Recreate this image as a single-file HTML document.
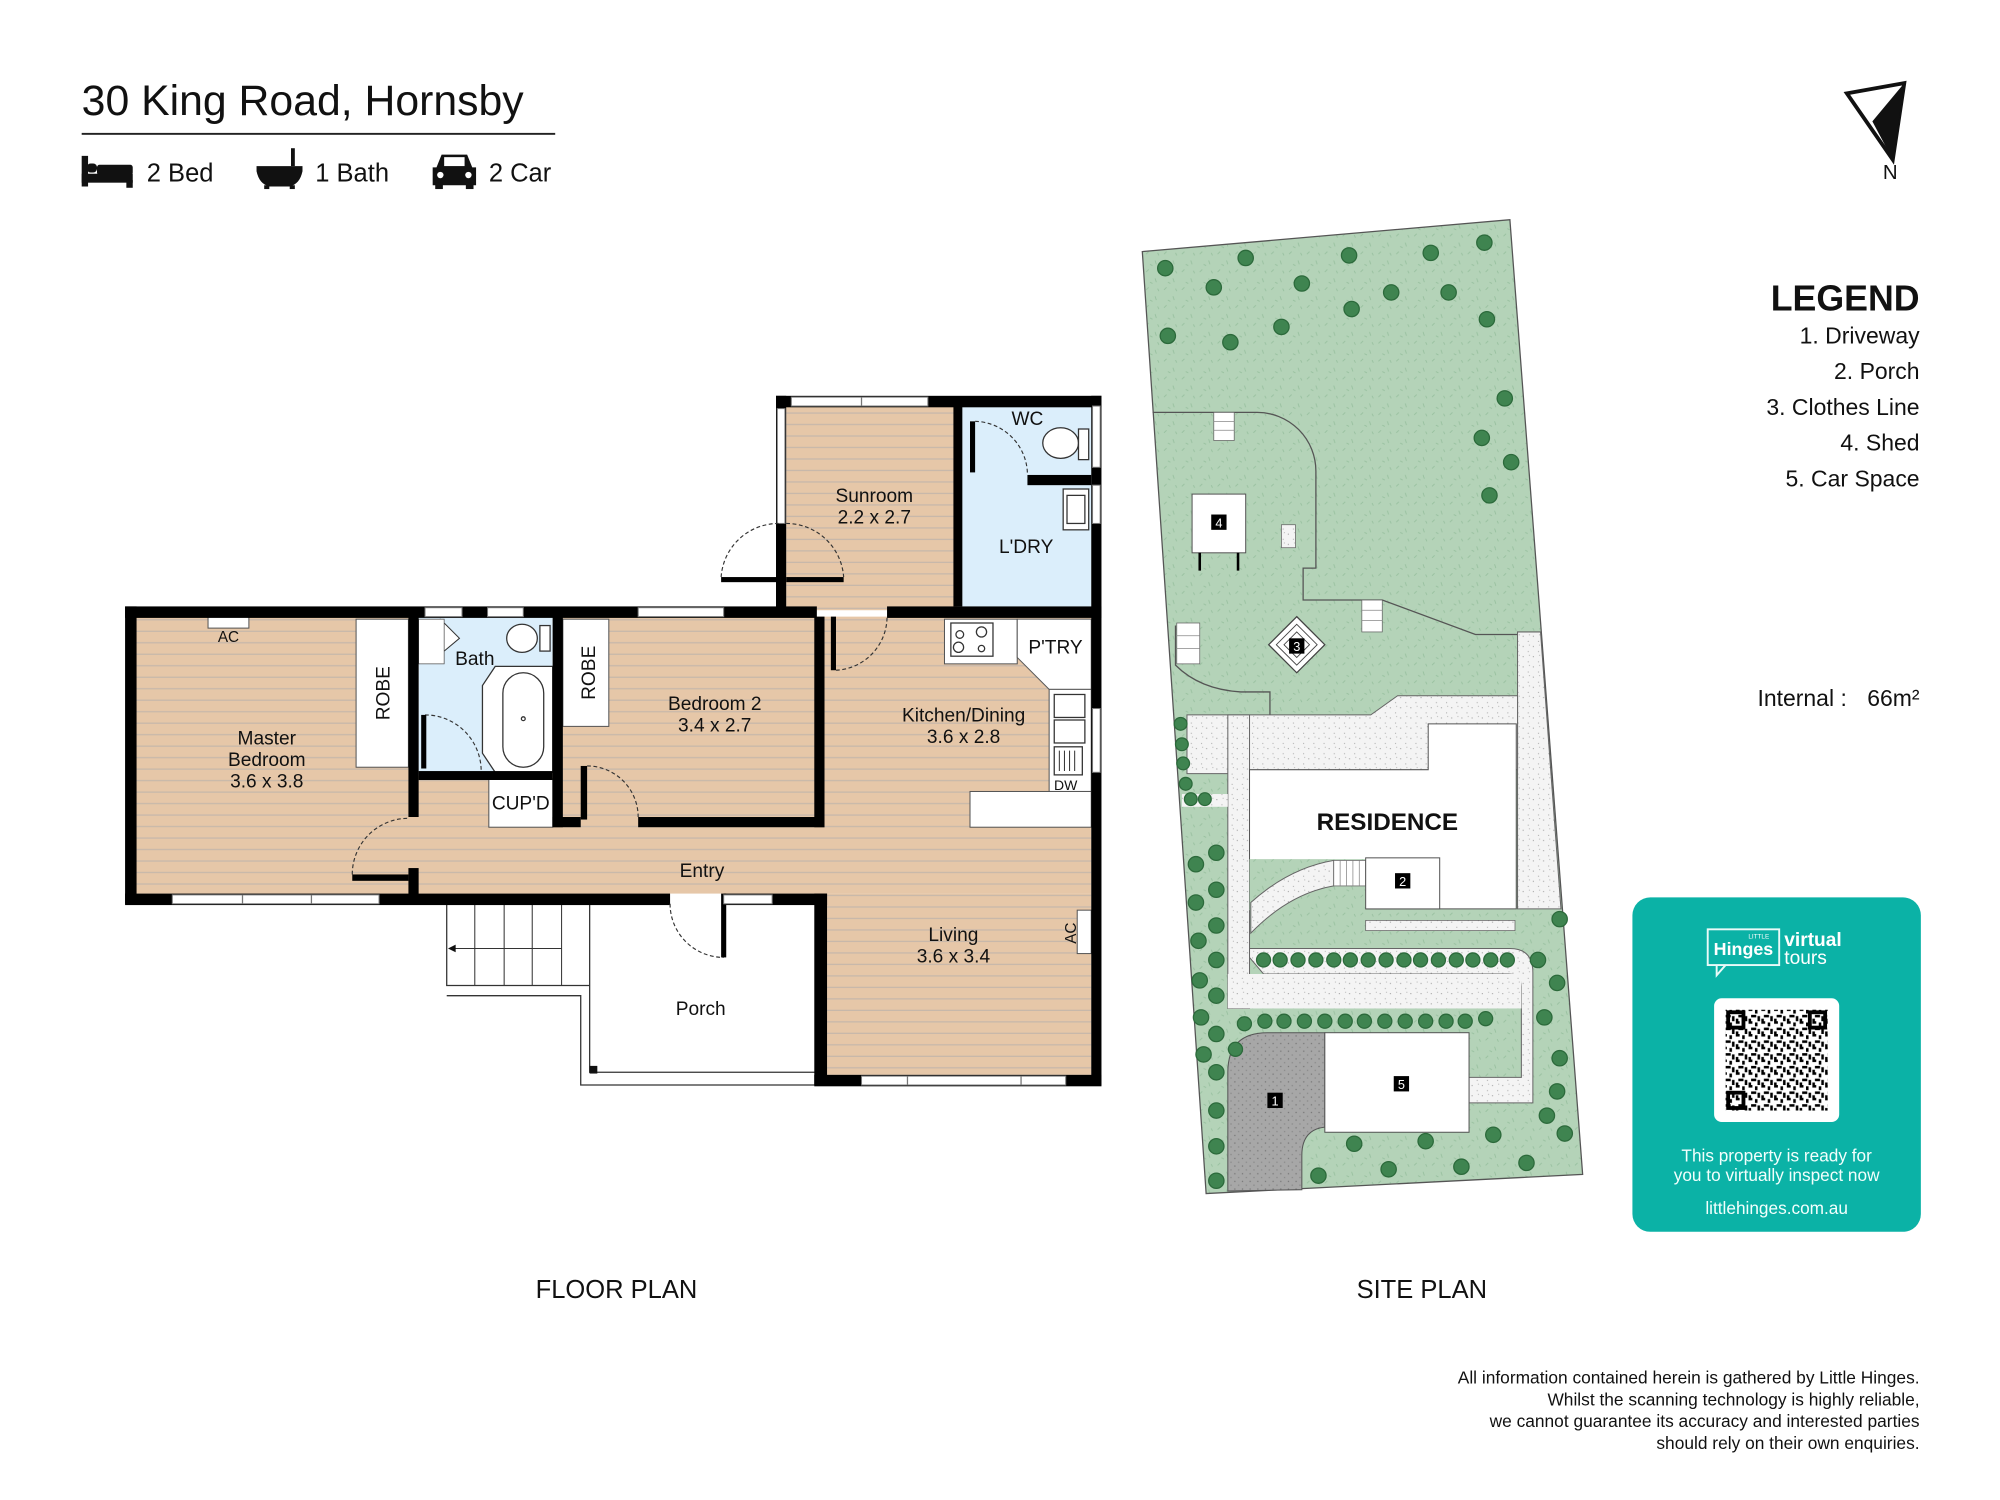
<!DOCTYPE html>
<html><head><meta charset="utf-8"><style>
html,body{margin:0;padding:0;background:#fff;}
svg{display:block;}
text{font-family:"Liberation Sans",Arial,sans-serif;}
</style></head><body>
<svg width="2000" height="1500" viewBox="0 0 1567 1175" xmlns="http://www.w3.org/2000/svg">
<defs>
<pattern id="wood" width="10" height="9" patternUnits="userSpaceOnUse">
<rect width="10" height="9" fill="#e6c7a8"/><rect y="8" width="10" height="1" fill="#c7b8aa"/>
</pattern>
<pattern id="grass" width="14" height="14" patternUnits="userSpaceOnUse">
<rect width="14" height="14" fill="#b4d3b8"/>
<path d="M2 3l2 -2M9 8l1 3M5 11l2 1M11 2l1 2" stroke="#98c09f" stroke-width="0.7"/>
</pattern>
<pattern id="gravel" width="8" height="8" patternUnits="userSpaceOnUse">
<rect width="8" height="8" fill="#f4f4f4"/>
<rect x="1" y="2" width="0.8" height="0.8" fill="#999"/><rect x="5" y="6" width="0.8" height="0.8" fill="#aaa"/><rect x="6" y="1" width="0.6" height="0.6" fill="#888"/>
</pattern>
<pattern id="drive" width="6" height="6" patternUnits="userSpaceOnUse">
<rect width="6" height="6" fill="#a7a7a7"/><rect x="1" y="1" width="1" height="1" fill="#777"/><rect x="4" y="4" width="1" height="1" fill="#888"/>
</pattern>
<pattern id="qr" width="10" height="10" patternUnits="userSpaceOnUse">
<rect width="10" height="10" fill="#fff"/>
<rect x="0" y="0" width="3" height="2" fill="#000"/><rect x="5" y="1" width="2" height="3" fill="#000"/><rect x="2" y="5" width="4" height="2" fill="#000"/><rect x="7" y="6" width="2" height="4" fill="#000"/><rect x="0" y="8" width="2" height="2" fill="#000"/>
</pattern>
</defs>

<!-- Header -->
<text x="64" y="90" font-size="33.5" fill="#111">30 King Road, Hornsby</text>
<rect x="64" y="104" width="371" height="1.5" fill="#222"/>
<g fill="#111">
<rect x="64" y="122" width="5" height="24"/><rect x="64" y="136" width="40" height="7"/><rect x="76" y="129" width="28" height="8" rx="2"/><rect x="99" y="141" width="5" height="6"/><rect x="68" y="128" width="8" height="7" rx="3"/>
</g>
<text x="115" y="142" font-size="20" fill="#111">2 Bed</text>
<g fill="#111"><path d="M201 130h36v4q-2 10-10 12h-16q-8-2-10-12z"/><rect x="228" y="116" width="3" height="14"/><rect x="207" y="145" width="4" height="3"/><rect x="227" y="145" width="4" height="3"/></g>
<text x="247" y="142" font-size="20" fill="#111">1 Bath</text>
<g fill="#111"><path d="M342 131l4-10h20l4 10h3v14h-34v-14z"/><rect x="341" y="143" width="6" height="5"/><rect x="365" y="143" width="6" height="5"/><rect x="348" y="123" width="16" height="7" fill="#fff"/><circle cx="345" cy="137" r="2.5" fill="#fff"/><circle cx="367" cy="137" r="2.5" fill="#fff"/></g>
<text x="383" y="142" font-size="20" fill="#111">2 Car</text>

<!-- North arrow -->
<path d="M1447 73 L1492 65 L1483 125 Z" fill="none" stroke="#111" stroke-width="3"/>
<path d="M1492 65 L1483 125 L1467 95 Z" fill="#111"/>
<text x="1481" y="140" font-size="16" text-anchor="middle" fill="#111">N</text>

<!-- ============ FLOOR PLAN ============ -->
<rect x="106" y="483" width="749" height="217" fill="url(#wood)"/>
<rect x="648" y="700" width="207" height="142" fill="url(#wood)"/>
<rect x="616" y="318" width="134" height="160" fill="url(#wood)"/>
<rect x="328" y="483" width="105" height="125" fill="#dbeefb"/>
<rect x="754" y="318" width="101" height="157" fill="#dbeefb"/>
<rect x="279" y="485" width="41" height="116" fill="#fff" stroke="#555" stroke-width="0.8"/>
<text transform="translate(305,543) rotate(-90)" font-size="15" text-anchor="middle" fill="#111">ROBE</text>
<rect x="441" y="485" width="36" height="84" fill="#fff" stroke="#555" stroke-width="0.8"/>
<text transform="translate(466,527) rotate(-90)" font-size="15" text-anchor="middle" fill="#111">ROBE</text>
<rect x="383" y="610" width="50" height="38" fill="#fff" stroke="#555" stroke-width="0.8"/>
<text x="408" y="634" font-size="15" text-anchor="middle" fill="#111">CUP'D</text>
<rect x="740" y="485" width="57" height="35" fill="#fff" stroke="#555" stroke-width="0.8"/>
<rect x="745" y="488" width="33" height="26" fill="#fff" stroke="#333"/>
<circle cx="752" cy="497" r="3" fill="none" stroke="#333"/><circle cx="769" cy="495" r="4" fill="none" stroke="#333"/><circle cx="751" cy="507" r="4" fill="none" stroke="#333"/><circle cx="769" cy="508" r="2.5" fill="none" stroke="#333"/>
<path d="M797 485 H855 V540 H822 L797 515 Z" fill="#fff" stroke="#555" stroke-width="0.8"/>
<text x="827" y="512" font-size="15" text-anchor="middle" fill="#111">P'TRY</text>
<rect x="822" y="540" width="33" height="80" fill="#fff" stroke="#555" stroke-width="0.8"/>
<rect x="826" y="544" width="24" height="18" fill="#fff" stroke="#333"/><rect x="826" y="564" width="24" height="18" fill="#fff" stroke="#333"/>
<rect x="826" y="585" width="22" height="22" fill="#fff" stroke="#333"/>
<path d="M830 588v16M834 588v16M838 588v16M842 588v16" stroke="#333" stroke-width="0.8"/>
<text x="835" y="619" font-size="11" text-anchor="middle" fill="#111">DW</text>
<rect x="760" y="620" width="95" height="28" fill="#fff" stroke="#555" stroke-width="0.8"/>
<path d="M330 490 L345 485 L360 500 L342 515 L330 505 Z" fill="#fff" stroke="#333" stroke-width="0.8"/>
<rect x="328" y="485" width="20" height="35" fill="#fff" stroke="#555" stroke-width="0.6"/>
<ellipse cx="409" cy="500" rx="12" ry="11" fill="#fff" stroke="#333"/><rect x="423" y="490" width="8" height="20" fill="#fff" stroke="#333"/>
<path d="M388 522 H433 V605 H388 L378 590 V537 Z" fill="#fff" stroke="#333"/>
<rect x="394" y="527" width="32" height="74" rx="16" fill="#fff" stroke="#333"/>
<circle cx="410" cy="563" r="1.5" fill="none" stroke="#333"/>
<ellipse cx="831" cy="347" rx="14" ry="12" fill="#fff" stroke="#333"/><rect x="845" y="336" width="8" height="24" fill="#fff" stroke="#333"/>
<rect x="833" y="383" width="20" height="32" fill="#fff" stroke="#333"/><rect x="836" y="388" width="14" height="22" fill="#fff" stroke="#333"/>
<rect x="163" y="483" width="32" height="9" fill="#fff" stroke="#555" stroke-width="0.8"/>
<text x="179" y="503" font-size="12" text-anchor="middle" fill="#111">AC</text>
<rect x="844" y="713" width="11" height="34" fill="#fff" stroke="#555" stroke-width="0.8"/>
<text transform="translate(843,731) rotate(-90)" font-size="12" text-anchor="middle" fill="#111">AC</text>

<path d="M462 708 V840 H640" fill="none" stroke="#333" stroke-width="1"/>
<rect x="462" y="835" width="6" height="6" fill="#111"/>
<path d="M350 708 V772 H462 M350 780 H455 V850 H640" fill="none" stroke="#333" stroke-width="1"/>
<path d="M372 708V772M395 708V772M417 708V772M440 708V772" stroke="#333" stroke-width="0.8"/>
<path d="M440 743 H352" stroke="#333" stroke-width="0.8"/><path d="M351 743 l6 -3 v6z" fill="#111"/>

<g fill="#000">
<rect x="98" y="475" width="542" height="9"/>
<rect x="695" y="475" width="168" height="9"/>
<rect x="98" y="475" width="9" height="233"/>
<rect x="98" y="700" width="427" height="9"/>
<rect x="567" y="700" width="81" height="9"/>
<rect x="638" y="700" width="10" height="150"/>
<rect x="638" y="842" width="225" height="9"/>
<rect x="855" y="310" width="8" height="540"/>
<rect x="608" y="310" width="255" height="9"/>
<rect x="608" y="310" width="8" height="168"/>
<rect x="747" y="318" width="7" height="157"/>
<rect x="805" y="372" width="50" height="8"/>
<rect x="760" y="330" width="4" height="40"/>
<rect x="320" y="483" width="8" height="157"/>
<rect x="320" y="680" width="8" height="22"/>
<rect x="328" y="604" width="105" height="7"/>
<rect x="433" y="483" width="8" height="165"/>
<rect x="433" y="640" width="22" height="8"/>
<rect x="455" y="600" width="5" height="42"/>
<rect x="500" y="640" width="146" height="8"/>
<rect x="638" y="483" width="8" height="165"/>
<rect x="651" y="483" width="4" height="42"/>
<rect x="276" y="685" width="44" height="5"/>
<rect x="565" y="452" width="45" height="4"/>
<rect x="616" y="452" width="45" height="4"/>
<rect x="565" y="700" width="4" height="50"/>
</g>
<g fill="#fff" stroke="#777" stroke-width="0.8">
<rect x="135" y="701" width="162" height="7"/>
<rect x="333" y="476" width="29" height="7"/><rect x="382" y="476" width="28" height="7"/>
<rect x="500" y="476" width="67" height="7"/>
<rect x="567" y="701" width="38" height="7"/>
<rect x="675" y="843" width="160" height="7"/>
<rect x="620" y="311" width="107" height="7"/>
<rect x="609" y="320" width="6" height="90"/>
<rect x="856" y="318" width="6" height="48"/><rect x="856" y="380" width="6" height="30"/>
<rect x="856" y="555" width="6" height="50"/>
</g>
<path d="M190 701v7M244 701v7M675 311v7M711 843v7M800 843v7" stroke="#777"/>
<g fill="none" stroke="#333" stroke-width="0.9" stroke-dasharray="3,2">
<path d="M276 685 A44 44 0 0 1 320 641"/>
<path d="M525 708 A42 42 0 0 0 567 750"/>
<path d="M460 600 A40 40 0 0 1 500 640"/>
<path d="M655 525 A42 42 0 0 0 695 483"/>
<path d="M565 452 A45 45 0 0 1 610 410"/>
<path d="M616 410 A45 45 0 0 1 661 452"/>
<path d="M764 330 A42 42 0 0 1 805 372"/>
<path d="M333 560 A44 44 0 0 1 377 604"/>
</g>
<rect x="330" y="560" width="4" height="42" fill="#000"/>
<g font-size="15" fill="#111" text-anchor="middle">
<text x="209" y="583">Master</text><text x="209" y="600">Bedroom</text><text x="209" y="617">3.6 x 3.8</text>
<text x="372" y="521">Bath</text>
<text x="560" y="556">Bedroom 2</text><text x="560" y="573">3.4 x 2.7</text>
<text x="685" y="393">Sunroom</text><text x="685" y="410">2.2 x 2.7</text>
<text x="805" y="333">WC</text>
<text x="804" y="433">L'DRY</text>
<text x="755" y="565">Kitchen/Dining</text><text x="755" y="582">3.6 x 2.8</text>
<text x="550" y="687">Entry</text>
<text x="747" y="737">Living</text><text x="747" y="754">3.6 x 3.4</text>
<text x="549" y="795">Porch</text>
</g>
<text x="483" y="1017" font-size="20" text-anchor="middle" fill="#111">FLOOR PLAN</text>

<!-- ============ SITE PLAN ============ -->
<path d="M895 197 L1183 172 L1240 920 L945 935 Z" fill="url(#grass)" stroke="#555" stroke-width="1"/>
<path d="M903 323 H985 A46 46 0 0 1 1031 369 V445 H1021 V470 H1083 L1156 497 H1189" fill="none" stroke="#555" stroke-width="1"/>
<path d="M921 490 V521 Q940 540 972 542 H995 V562" fill="none" stroke="#555" stroke-width="1"/>
<path d="M1189 495 L1207 495 L1223 712 L1189 712 Z" fill="url(#gravel)" stroke="#666" stroke-width="0.8"/>
<path d="M930 560 H1074 L1095 545 H1189 V603 H979 V606 H930 Z" fill="url(#gravel)" stroke="#666" stroke-width="0.8"/>
<rect x="962" y="560" width="17" height="230" fill="url(#gravel)" stroke="#666" stroke-width="0.8"/>
<rect x="926" y="622" width="36" height="10" fill="url(#gravel)"/>
<path d="M979 743 H1183 Q1201 743 1201 762 V864 H1151 V844 H1192 V773 Q1192 763 1182 763 H990 L979 750 Z" fill="url(#gravel)" stroke="#666" stroke-width="0.8"/>
<rect x="962" y="763" width="230" height="27" fill="url(#gravel)"/>
<path d="M979 603 H1119 V567 H1188 V712 H979 Z" fill="#fff" stroke="#555" stroke-width="0.8"/>
<rect x="979" y="673" width="91" height="40" fill="url(#grass)"/>
<path d="M980 707 Q1010 680 1045 674 V694 Q1010 700 980 731 Z" fill="url(#gravel)" stroke="#666" stroke-width="0.8"/>
<rect x="1045" y="674" width="25" height="20" fill="#fff" stroke="#666" stroke-width="0.6"/>
<path d="M1050 674v20M1055 674v20M1060 674v20M1065 674v20" stroke="#888" stroke-width="0.6"/>
<rect x="1070" y="672" width="58" height="40" fill="#fff" stroke="#555" stroke-width="0.8"/>
<rect x="1070" y="721" width="117" height="8" fill="url(#gravel)" stroke="#666" stroke-width="0.6"/>
<text x="1087" y="650" font-size="19" font-weight="bold" text-anchor="middle" fill="#111">RESIDENCE</text>
<path d="M962 933 V840 Q962 809 993 809 H1038 V883 Q1020 885 1020 905 V932 Z" fill="url(#drive)" stroke="#555" stroke-width="0.8"/>
<rect x="1038" y="809" width="113" height="78" fill="#fff" stroke="#555" stroke-width="0.8"/>
<rect x="934" y="387" width="42" height="46" fill="#fff" stroke="#555" stroke-width="0.8"/>
<path d="M940 433v14M970 433v14" stroke="#000" stroke-width="2"/>
<rect x="1004" y="411" width="11" height="18" fill="url(#gravel)" stroke="#666" stroke-width="0.6"/>
<path d="M1016 483 L1038 505 L1016 527 L994 505 Z" fill="#fff" stroke="#444"/>
<path d="M1016 489 L1032 505 L1016 521 L1000 505 Z M1016 495 L1026 505 L1016 515 L1006 505 Z" fill="none" stroke="#444" stroke-width="0.7"/>
<rect x="951" y="323" width="16" height="22" fill="#fff" stroke="#666" stroke-width="0.6"/>
<rect x="1067" y="470" width="16" height="25" fill="#fff" stroke="#666" stroke-width="0.6"/>
<rect x="922" y="488" width="18" height="32" fill="#fff" stroke="#666" stroke-width="0.6"/>
<path d="M951 330h16M951 337h16M1067 478h16M1067 486h16M922 498h18M922 508h18" stroke="#888" stroke-width="0.6"/>
<g font-size="10" fill="#fff" text-anchor="middle">
<rect x="949" y="403" width="12" height="12" fill="#000"/><text x="955" y="413">4</text>
<rect x="1010" y="500" width="12" height="12" fill="#000"/><text x="1016" y="510">3</text>
<rect x="1093" y="684" width="12" height="12" fill="#000"/><text x="1099" y="694">2</text>
<rect x="993" y="856" width="12" height="12" fill="#000"/><text x="999" y="866">1</text>
<rect x="1092" y="843" width="12" height="12" fill="#000"/><text x="1098" y="853">5</text>
</g>
<g fill="#3f8450" stroke="#2c6a3b" stroke-width="1">
<circle cx="913" cy="210" r="6"/><circle cx="976" cy="202" r="6"/><circle cx="1057" cy="200" r="6"/><circle cx="1121" cy="198" r="6"/><circle cx="1163" cy="190" r="6"/>
<circle cx="951" cy="225" r="6"/><circle cx="1020" cy="222" r="6"/><circle cx="1090" cy="229" r="6"/><circle cx="1135" cy="229" r="6"/><circle cx="1059" cy="242" r="6"/><circle cx="1165" cy="250" r="6"/>
<circle cx="915" cy="263" r="6"/><circle cx="964" cy="268" r="6"/><circle cx="1004" cy="256" r="6"/>
<circle cx="1179" cy="312" r="6"/><circle cx="1161" cy="343" r="6"/><circle cx="1184" cy="362" r="6"/><circle cx="1167" cy="388" r="6"/>
<circle cx="925" cy="567" r="5"/><circle cx="926" cy="583" r="5"/><circle cx="927" cy="598" r="5"/><circle cx="929" cy="614" r="5"/><circle cx="933" cy="626" r="5"/><circle cx="944" cy="626" r="5"/>
<circle cx="953" cy="668" r="6"/><circle cx="937" cy="677" r="6"/><circle cx="953" cy="697" r="6"/><circle cx="937" cy="707" r="6"/><circle cx="953" cy="725" r="6"/><circle cx="939" cy="737" r="6"/><circle cx="953" cy="752" r="6"/><circle cx="940" cy="768" r="6"/><circle cx="953" cy="780" r="6"/><circle cx="941" cy="797" r="6"/><circle cx="953" cy="810" r="6"/><circle cx="943" cy="826" r="6"/><circle cx="953" cy="840" r="6"/><circle cx="953" cy="870" r="6"/><circle cx="953" cy="898" r="6"/><circle cx="953" cy="925" r="6"/>
<circle cx="990" cy="752" r="5.5"/><circle cx="1003" cy="752" r="5.5"/><circle cx="1017" cy="752" r="5.5"/><circle cx="1031" cy="752" r="5.5"/><circle cx="1045" cy="752" r="5.5"/><circle cx="1058" cy="752" r="5.5"/><circle cx="1072" cy="752" r="5.5"/><circle cx="1086" cy="752" r="5.5"/><circle cx="1100" cy="752" r="5.5"/><circle cx="1113" cy="752" r="5.5"/><circle cx="1127" cy="752" r="5.5"/><circle cx="1141" cy="752" r="5.5"/><circle cx="1154" cy="752" r="5.5"/><circle cx="1168" cy="752" r="5.5"/><circle cx="1181" cy="752" r="5.5"/>
<circle cx="975" cy="802" r="5.5"/><circle cx="991" cy="800" r="5.5"/><circle cx="1006" cy="800" r="5.5"/><circle cx="1022" cy="800" r="5.5"/><circle cx="1038" cy="800" r="5.5"/><circle cx="1054" cy="800" r="5.5"/><circle cx="1069" cy="800" r="5.5"/><circle cx="1085" cy="800" r="5.5"/><circle cx="1101" cy="800" r="5.5"/><circle cx="1117" cy="800" r="5.5"/><circle cx="1133" cy="800" r="5.5"/><circle cx="1148" cy="800" r="5.5"/><circle cx="1164" cy="798" r="5.5"/>
<circle cx="968" cy="822" r="5.5"/>
<circle cx="1205" cy="752" r="6"/><circle cx="1220" cy="770" r="6"/><circle cx="1210" cy="797" r="6"/><circle cx="1222" cy="829" r="6"/><circle cx="1220" cy="855" r="6"/><circle cx="1212" cy="874" r="6"/><circle cx="1226" cy="888" r="6"/>
<circle cx="1033" cy="921" r="6"/><circle cx="1088" cy="916" r="6"/><circle cx="1145" cy="914" r="6"/><circle cx="1196" cy="911" r="6"/><circle cx="1061" cy="896" r="6"/><circle cx="1117" cy="894" r="6"/><circle cx="1170" cy="889" r="6"/><circle cx="1222" cy="720" r="6"/>
</g>
<text x="1114" y="1017" font-size="20" text-anchor="middle" fill="#111">SITE PLAN</text>

<text x="1504" y="243" font-size="28" font-weight="bold" text-anchor="end" fill="#111">LEGEND</text>
<g font-size="18" text-anchor="end" fill="#111">
<text x="1504" y="269">1. Driveway</text>
<text x="1504" y="297">2. Porch</text>
<text x="1504" y="325">3. Clothes Line</text>
<text x="1504" y="353">4. Shed</text>
<text x="1504" y="381">5. Car Space</text>
<text x="1447" y="553">Internal  :</text>
<text x="1504" y="553">66m²</text>
</g>

<rect x="1279" y="703" width="226" height="262" rx="14" fill="#0bb2a6"/>
<rect x="1338" y="728" width="56" height="28" fill="none" stroke="#e9faf8" stroke-width="1.5"/>
<path d="M1345 756 v8 l7 -8" fill="none" stroke="#e9faf8" stroke-width="1.5"/>
<text x="1366" y="748" font-size="14" text-anchor="middle" fill="#fff" font-weight="bold">Hinges</text>
<text x="1378" y="735" font-size="5" text-anchor="middle" fill="#fff">LITTLE</text>
<text x="1398" y="741" font-size="15" fill="#fff" font-weight="bold">virtual</text>
<text x="1398" y="755" font-size="15" fill="#fff">tours</text>
<rect x="1343" y="782" width="98" height="97" rx="6" fill="#fff"/>
<rect x="1352" y="791" width="80" height="79" fill="url(#qr)"/>
<g fill="none" stroke="#000" stroke-width="3"><rect x="1354" y="793" width="12" height="12"/><rect x="1418" y="793" width="12" height="12"/><rect x="1354" y="856" width="12" height="12"/></g>
<g font-size="13.5" text-anchor="middle" fill="#f2fffd">
<text x="1392" y="910">This property is ready for</text>
<text x="1392" y="925">you to virtually inspect now</text>
<text x="1392" y="951">littlehinges.com.au</text>
</g>

<g font-size="13.6" text-anchor="end" fill="#111">
<text x="1504" y="1084">All information contained herein is gathered by Little Hinges.</text>
<text x="1504" y="1101">Whilst the scanning technology is highly reliable,</text>
<text x="1504" y="1118">we cannot guarantee its accuracy and interested parties</text>
<text x="1504" y="1135">should rely on their own enquiries.</text>
</g>
</svg>
</body></html>
